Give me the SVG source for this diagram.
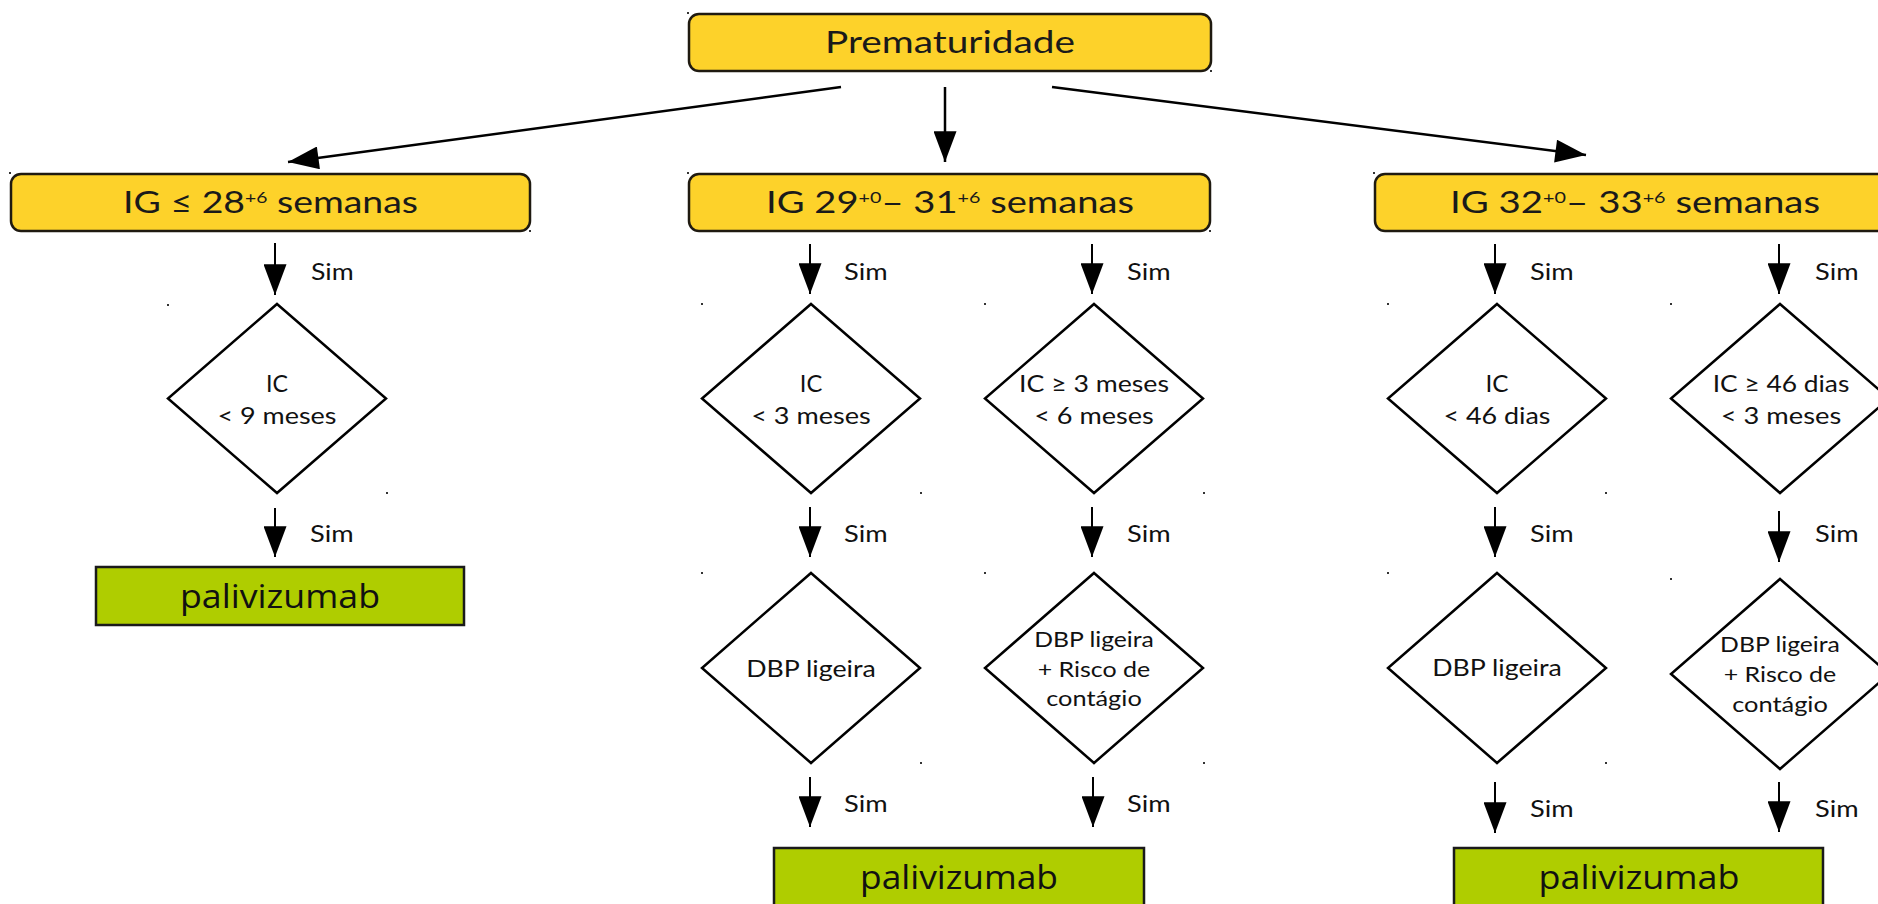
<svg xmlns="http://www.w3.org/2000/svg" width="1878" height="904" viewBox="0 0 1878 904">
<style>
  .ybox { fill: #FDD22A; stroke: #1f1a10; stroke-width: 2.5; }
  .gbox { fill: #AFCD00; stroke: #1a1a1a; stroke-width: 2.5; }
  .dia { fill: #ffffff; stroke: #000000; stroke-width: 2.5; }
  .hdr { font-family: Lato, "Liberation Sans", sans-serif; font-size: 31px; fill: #1a1a1a; }
  .sup { font-size: 16px; }
  .dt { font-family: Lato, "Open Sans", sans-serif; font-size: 23px; fill: #111; }
  .dt3 { font-family: Lato, "Open Sans", sans-serif; font-size: 21px; fill: #111; }
  .sim { font-family: Lato, "Liberation Sans", sans-serif; font-size: 24px; fill: #111; }
  .pal { font-family: "Open Sans", "Noto Sans", sans-serif; font-size: 33px; fill: #111; }
  .arr { stroke: #000; stroke-width: 2.5; fill: none; marker-end: url(#ah); }
  .sarr { stroke: #000; stroke-width: 2; fill: none; marker-end: url(#ah); }
  .dot { fill: #333; }
</style>
<defs>
  <marker id="ah" viewBox="0 0 32 24" refX="32" refY="12" markerWidth="32" markerHeight="23" markerUnits="userSpaceOnUse" orient="auto">
    <path d="M0,0 L32,12 L0,24 Z" fill="#000"/>
  </marker>
</defs>
<rect width="1878" height="904" fill="#ffffff"/>

<g id="prematuridade">
  <rect class="ybox" x="689" y="14" width="522" height="57" rx="10"/>
  <text class="hdr" x="950" y="53" text-anchor="middle" textLength="250" lengthAdjust="spacingAndGlyphs" font-size="29">Prematuridade</text>
</g>

<g id="ig28">
  <rect class="ybox" x="11" y="174" width="519" height="57" rx="10"/>
  <text class="hdr" x="270.5" y="213" text-anchor="middle" textLength="295" lengthAdjust="spacingAndGlyphs">IG ≤ 28<tspan class="sup" dy="-10">+6</tspan><tspan dy="10"> semanas</tspan></text>
</g>

<g id="ig29">
  <rect class="ybox" x="689" y="174" width="521" height="57" rx="10"/>
  <text class="hdr" x="950" y="213" text-anchor="middle" textLength="368" lengthAdjust="spacingAndGlyphs">IG 29<tspan class="sup" dy="-10">+0</tspan><tspan dy="10">– 31</tspan><tspan class="sup" dy="-10">+6</tspan><tspan dy="10"> semanas</tspan></text>
</g>

<g id="ig32">
  <rect class="ybox" x="1375" y="174" width="520" height="57" rx="10"/>
  <text class="hdr" x="1635" y="213" text-anchor="middle" textLength="370" lengthAdjust="spacingAndGlyphs">IG 32<tspan class="sup" dy="-10">+0</tspan><tspan dy="10">– 33</tspan><tspan class="sup" dy="-10">+6</tspan><tspan dy="10"> semanas</tspan></text>
</g>

<g id="d1">
  <polygon class="dia" points="277,304 386,398.5 277,493 168,398.5"/>
  <text class="dt" x="277" y="392" text-anchor="middle" textLength="22" lengthAdjust="spacingAndGlyphs">IC</text>
  <text class="dt" x="277" y="424" text-anchor="middle" textLength="119" lengthAdjust="spacingAndGlyphs">&lt; 9 meses</text>
</g>

<g id="d2a">
  <polygon class="dia" points="811,304 920,398.5 811,493 702,398.5"/>
  <text class="dt" x="811" y="392" text-anchor="middle" textLength="22.5" lengthAdjust="spacingAndGlyphs">IC</text>
  <text class="dt" x="811" y="424" text-anchor="middle" textLength="119.6" lengthAdjust="spacingAndGlyphs">&lt; 3 meses</text>
</g>

<g id="d2b">
  <polygon class="dia" points="1094,304 1203,398.5 1094,493 985,398.5"/>
  <text class="dt" x="1094" y="392" text-anchor="middle" textLength="150" lengthAdjust="spacingAndGlyphs">IC ≥ 3 meses</text>
  <text class="dt" x="1094" y="424" text-anchor="middle" textLength="119.6" lengthAdjust="spacingAndGlyphs">&lt; 6 meses</text>
</g>

<g id="d3a">
  <polygon class="dia" points="1497,304 1606,398.5 1497,493 1388,398.5"/>
  <text class="dt" x="1497" y="392" text-anchor="middle" textLength="23" lengthAdjust="spacingAndGlyphs">IC</text>
  <text class="dt" x="1497" y="424" text-anchor="middle" textLength="107" lengthAdjust="spacingAndGlyphs">&lt; 46 dias</text>
</g>

<g id="d3b">
  <polygon class="dia" points="1780,304 1889,398.5 1780,493 1671,398.5"/>
  <text class="dt" x="1781" y="392" text-anchor="middle" textLength="136.6" lengthAdjust="spacingAndGlyphs">IC ≥ 46 dias</text>
  <text class="dt" x="1781" y="424" text-anchor="middle" textLength="120.5" lengthAdjust="spacingAndGlyphs">&lt; 3 meses</text>
</g>

<g id="e2a">
  <polygon class="dia" points="811,573 920,668 811,763 702,668"/>
  <text class="dt" x="811" y="677" text-anchor="middle" textLength="129.5" lengthAdjust="spacingAndGlyphs">DBP ligeira</text>
</g>

<g id="e2b">
  <polygon class="dia" points="1094,573 1203,668 1094,763 985,668"/>
  <text class="dt3" x="1094" y="647" text-anchor="middle" textLength="119.7" lengthAdjust="spacingAndGlyphs">DBP ligeira</text>
  <text class="dt3" x="1094" y="677" text-anchor="middle" textLength="112.6" lengthAdjust="spacingAndGlyphs">+ Risco de</text>
  <text class="dt3" x="1094" y="706" text-anchor="middle" textLength="95.5" lengthAdjust="spacingAndGlyphs">contágio</text>
</g>

<g id="e3a">
  <polygon class="dia" points="1497,573 1606,668 1497,763 1388,668"/>
  <text class="dt" x="1497" y="676" text-anchor="middle" textLength="129.5" lengthAdjust="spacingAndGlyphs">DBP ligeira</text>
</g>

<g id="e3b">
  <polygon class="dia" points="1780,579 1889,674 1780,769 1671,674"/>
  <text class="dt3" x="1780" y="652" text-anchor="middle" textLength="119.8" lengthAdjust="spacingAndGlyphs">DBP ligeira</text>
  <text class="dt3" x="1780" y="682" text-anchor="middle" textLength="112.6" lengthAdjust="spacingAndGlyphs">+ Risco de</text>
  <text class="dt3" x="1780" y="712" text-anchor="middle" textLength="95.7" lengthAdjust="spacingAndGlyphs">contágio</text>
</g>

<g id="pal1">
  <rect class="gbox" x="96" y="567" width="368" height="58"/>
  <text class="pal" x="280" y="608" text-anchor="middle" textLength="200" lengthAdjust="spacingAndGlyphs">palivizumab</text>
</g>

<g id="pal2">
  <rect class="gbox" x="774" y="848" width="370" height="70"/>
  <text class="pal" x="959" y="889" text-anchor="middle" textLength="198" lengthAdjust="spacingAndGlyphs">palivizumab</text>
</g>

<g id="pal3">
  <rect class="gbox" x="1454" y="848" width="369" height="70"/>
  <text class="pal" x="1639" y="889" text-anchor="middle" textLength="201" lengthAdjust="spacingAndGlyphs">palivizumab</text>
</g>

<g id="connectors">
  <line class="arr" x1="841" y1="87" x2="288" y2="162"/>
  <line class="arr" x1="945" y1="87" x2="945" y2="162"/>
  <line class="arr" x1="1052" y1="87" x2="1586" y2="155"/>

  <line class="sarr" x1="275" y1="243" x2="275" y2="295"/>
  <line class="sarr" x1="810" y1="244" x2="810" y2="294"/>
  <line class="sarr" x1="1092" y1="244" x2="1092" y2="294"/>
  <line class="sarr" x1="1495" y1="244" x2="1495" y2="294"/>
  <line class="sarr" x1="1779" y1="244" x2="1779" y2="294"/>

  <line class="sarr" x1="275" y1="508" x2="275" y2="557"/>
  <line class="sarr" x1="810" y1="507" x2="810" y2="557"/>
  <line class="sarr" x1="1092" y1="507" x2="1092" y2="557"/>
  <line class="sarr" x1="1495" y1="507" x2="1495" y2="557"/>
  <line class="sarr" x1="1779" y1="511" x2="1779" y2="562"/>

  <line class="sarr" x1="810" y1="777" x2="810" y2="827"/>
  <line class="sarr" x1="1093" y1="777" x2="1093" y2="827"/>
  <line class="sarr" x1="1495" y1="782" x2="1495" y2="833"/>
  <line class="sarr" x1="1779" y1="782" x2="1779" y2="832"/>

  <g id="labels">
    <text class="sim" x="311" y="280" textLength="42.7" lengthAdjust="spacingAndGlyphs">Sim</text>
    <text class="sim" x="844" y="280" textLength="43.6" lengthAdjust="spacingAndGlyphs">Sim</text>
    <text class="sim" x="1127" y="280" textLength="43.6" lengthAdjust="spacingAndGlyphs">Sim</text>
    <text class="sim" x="1530" y="280" textLength="43.6" lengthAdjust="spacingAndGlyphs">Sim</text>
    <text class="sim" x="1815" y="280" textLength="43.6" lengthAdjust="spacingAndGlyphs">Sim</text>

    <text class="sim" x="310" y="542" textLength="43.6" lengthAdjust="spacingAndGlyphs">Sim</text>
    <text class="sim" x="844" y="542" textLength="43.6" lengthAdjust="spacingAndGlyphs">Sim</text>
    <text class="sim" x="1127" y="542" textLength="43.6" lengthAdjust="spacingAndGlyphs">Sim</text>
    <text class="sim" x="1530" y="542" textLength="43.6" lengthAdjust="spacingAndGlyphs">Sim</text>
    <text class="sim" x="1815" y="542" textLength="43.6" lengthAdjust="spacingAndGlyphs">Sim</text>

    <text class="sim" x="844" y="812" textLength="43.6" lengthAdjust="spacingAndGlyphs">Sim</text>
    <text class="sim" x="1127" y="812" textLength="43.6" lengthAdjust="spacingAndGlyphs">Sim</text>
    <text class="sim" x="1530" y="817" textLength="43.6" lengthAdjust="spacingAndGlyphs">Sim</text>
    <text class="sim" x="1815" y="817" textLength="43.6" lengthAdjust="spacingAndGlyphs">Sim</text>
  </g>
</g>

<g id="marks">
  <rect class="dot" x="687" y="12" width="2" height="2"/>
  <rect class="dot" x="1210" y="70" width="2" height="2"/>
  <rect class="dot" x="9" y="172" width="2" height="2"/>
  <rect class="dot" x="529" y="230" width="2" height="2"/>
  <rect class="dot" x="687" y="172" width="2" height="2"/>
  <rect class="dot" x="1209" y="230" width="2" height="2"/>
  <rect class="dot" x="1373" y="172" width="2" height="2"/>
  <rect class="dot" x="167" y="304" width="2" height="2"/>
  <rect class="dot" x="386" y="492" width="2" height="2"/>
  <rect class="dot" x="701" y="303" width="2" height="2"/>
  <rect class="dot" x="920" y="492" width="2" height="2"/>
  <rect class="dot" x="984" y="303" width="2" height="2"/>
  <rect class="dot" x="1203" y="492" width="2" height="2"/>
  <rect class="dot" x="1387" y="303" width="2" height="2"/>
  <rect class="dot" x="1605" y="492" width="2" height="2"/>
  <rect class="dot" x="1670" y="303" width="2" height="2"/>
  <rect class="dot" x="701" y="572" width="2" height="2"/>
  <rect class="dot" x="920" y="762" width="2" height="2"/>
  <rect class="dot" x="984" y="572" width="2" height="2"/>
  <rect class="dot" x="1203" y="762" width="2" height="2"/>
  <rect class="dot" x="1387" y="572" width="2" height="2"/>
  <rect class="dot" x="1605" y="762" width="2" height="2"/>
  <rect class="dot" x="1670" y="578" width="2" height="2"/>
</g>
</svg>
